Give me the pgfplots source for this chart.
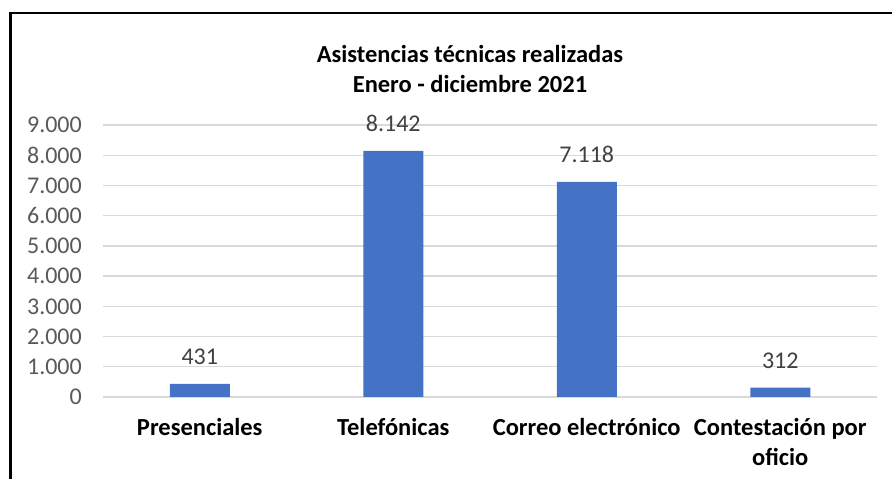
\documentclass[border=0pt]{standalone}
\usepackage{fontspec}
\setmainfont{Carlito}
\usepackage{pgfplots}
\pgfplotsset{compat=1.18}
\definecolor{barblue}{HTML}{4472C4}
\definecolor{gridgray}{HTML}{D9D9D9}
\definecolor{ticktext}{HTML}{595959}
\definecolor{labeltext}{HTML}{404040}
\begin{document}
\begin{tikzpicture}[x=1pt,y=1pt]
\useasboundingbox (0,0) rectangle (892,479);
\draw[line width=2.2pt, black] (10.5,0) -- (10.5,466) -- (892,466);
\node[anchor=base, font=\bfseries\fontsize{24.5}{28}\selectfont] at (470,416) {Asistencias técnicas realizadas};
\node[anchor=base, font=\bfseries\fontsize{24.5}{28}\selectfont] at (470,386) {Enero - diciembre 2021};
\begin{axis}[
  at={(103pt,82pt)}, anchor=south west,
  scale only axis, width=774pt, height=272pt,
  xmin=-0.5, xmax=3.5, ymin=0, ymax=9000,
  axis line style={draw=none},
  major tick length=0pt,
  ytick={0,1000,...,9000},
  ymajorgrids, grid style={gridgray, line width=1.3pt},
  xtick={0,1,2,3},
  xticklabels={Presenciales,Telefónicas,Correo electrónico,{Contestación por\\oficio}},
  xticklabel style={font=\bfseries\fontsize{24.5}{30}\selectfont, align=center, anchor=north, inner sep=0pt, yshift=-21pt, text=black},
  yticklabel style={font=\fontsize{24}{28}\selectfont, text=ticktext, anchor=east, inner sep=0pt, xshift=-21pt},
  /pgf/number format/.cd, 1000 sep={.}, assume math mode=true,
]
\addplot[ybar, bar width=60pt, fill=barblue, draw=none,
  nodes near coords,
  nodes near coords style={font=\fontsize{24}{28}\selectfont, text=labeltext, anchor=south, inner sep=0pt, yshift=19pt, /pgf/number format/1000 sep={.}, /pgf/number format/assume math mode=true}
] coordinates {(0,431) (1,8142) (2,7118) (3,312)};
\end{axis}
\end{tikzpicture}
\end{document}
